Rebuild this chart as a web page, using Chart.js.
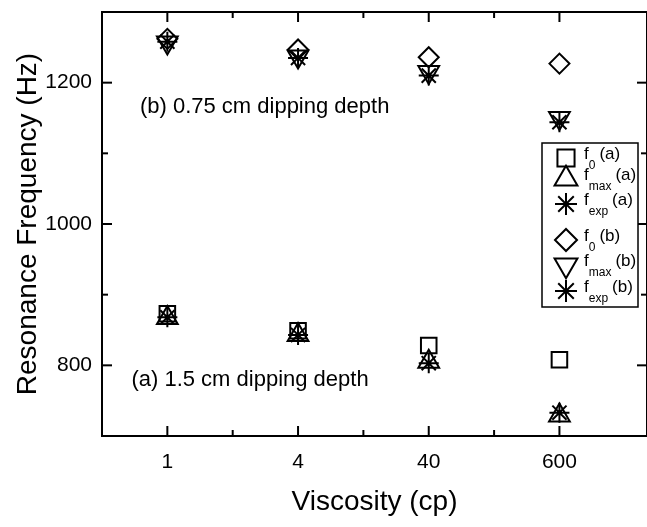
<!DOCTYPE html>
<html>
<head>
<meta charset="utf-8">
<script src="https://cdn.jsdelivr.net/npm/chart.js@4"></script>
<style>
  html, body { margin: 0; padding: 0; background: #fff; }
  canvas { display: block; }
</style>
</head>
<body>
<canvas id="chart" width="647" height="527"></canvas>
<script>
// categories (viscosity, cp) and resonance frequencies (Hz)
const viscosity = ["1", "4", "40", "600"];
const f0A   = [873, 849, 828, 808];
const fmaxA = [867, 843, 805, 729];
const fexpA = [868, 843, 803, 733];
const f0B   = [1262, 1247, 1236, 1227];
const fmaxB = [1257, 1237, 1215, 1150];
const fexpB = [1258, 1235, 1210, 1144];

const yTicks = [800, 1000, 1200];
const yMinor = [900, 1100];
const xMinor = [1.5, 2.5, 3.5];

const seriesSub   = ["0", "max", "exp", "0", "max", "exp"];
const seriesGroup = ["(a)", "(a)", "(a)", "(b)", "(b)", "(b)"];

const notes = [
  { text: "(b) 0.75 cm dipping depth", x: 0.79, y: 1165 },
  { text: "(a) 1.5 cm dipping depth",  x: 0.725, y: 780 }
];

const FONT = '"Liberation Sans", Arial, sans-serif';
Chart.defaults.color = "#000";
Chart.defaults.font.family = FONT;

function series(i, values, style, radius, rotation) {
  return {
    label: `f${seriesSub[i]} ${seriesGroup[i]}`,
    data: values.map((v, k) => ({ x: k + 1, y: v })),
    pointStyle: style,
    pointRadius: radius,
    pointRotation: rotation || 0,
    pointBorderWidth: 2,
    borderColor: "#000",
    backgroundColor: "rgba(0,0,0,0)",
    showLine: false
  };
}

// frame with inward ticks on all four sides
const frame = {
  id: "frame",
  afterDraw(chart) {
    const { ctx, chartArea: a, scales: { x, y } } = chart;
    ctx.save();
    ctx.strokeStyle = "#000";
    ctx.lineWidth = 2;
    ctx.strokeRect(a.left, a.top, a.right - a.left, a.bottom - a.top);
    const line = (x1, y1, x2, y2) => {
      ctx.beginPath(); ctx.moveTo(x1, y1); ctx.lineTo(x2, y2); ctx.stroke();
    };
    x.ticks.forEach(t => {
      const p = x.getPixelForValue(t.value);
      line(p, a.bottom, p, a.bottom - 10);
      line(p, a.top, p, a.top + 10);
    });
    xMinor.forEach(v => {
      const p = x.getPixelForValue(v);
      line(p, a.bottom, p, a.bottom - 6);
      line(p, a.top, p, a.top + 6);
    });
    y.ticks.forEach(t => {
      const p = y.getPixelForValue(t.value);
      line(a.left, p, a.left + 10, p);
      line(a.right, p, a.right - 10, p);
    });
    yMinor.forEach(v => {
      const p = y.getPixelForValue(v);
      line(a.left, p, a.left + 6, p);
      line(a.right, p, a.right - 6, p);
    });
    ctx.restore();
  }
};

// text notes inside the plot
const notesPlugin = {
  id: "notes",
  afterDraw(chart) {
    const { ctx, scales: { x, y } } = chart;
    ctx.save();
    ctx.fillStyle = "#000";
    ctx.font = "22px " + FONT;
    ctx.textAlign = "left";
    ctx.textBaseline = "middle";
    notes.forEach(n => ctx.fillText(n.text, x.getPixelForValue(n.x), y.getPixelForValue(n.y)));
    ctx.restore();
  }
};

// boxed legend with subscripts
const legendPlugin = {
  id: "subLegend",
  afterDraw(chart) {
    const ctx = chart.ctx;
    const box = { left: 542, top: 143, right: 638, bottom: 307 };
    const rows = [158, 179, 204, 240, 265, 291];
    ctx.save();
    ctx.fillStyle = "#fff";
    ctx.fillRect(box.left, box.top, box.right - box.left, box.bottom - box.top);
    ctx.strokeStyle = "#000";
    ctx.lineWidth = 1.5;
    ctx.strokeRect(box.left, box.top, box.right - box.left, box.bottom - box.top);
    chart.data.datasets.forEach((ds, i) => {
      const ry = rows[i];
      ctx.fillStyle = "rgba(0,0,0,0)";
      ctx.strokeStyle = "#000";
      ctx.lineWidth = 2;
      Chart.helpers.drawPoint(ctx, {
        pointStyle: ds.pointStyle,
        rotation: ds.pointRotation,
        radius: ds.pointRadius * 1.1,
        borderWidth: 2
      }, 566, ry);
      ctx.fillStyle = "#000";
      ctx.textBaseline = "middle";
      ctx.textAlign = "left";
      ctx.font = "17px " + FONT;
      ctx.fillText("f", 584, ry - 4);
      const fw = ctx.measureText("f").width;
      ctx.font = "12px " + FONT;
      ctx.fillText(seriesSub[i], 584 + fw, ry + 8);
      const sw = ctx.measureText(seriesSub[i]).width;
      ctx.font = "17px " + FONT;
      ctx.fillText(seriesGroup[i], 584 + fw + sw + 4, ry - 4);
    });
    ctx.restore();
  }
};

new Chart(document.getElementById("chart"), {
  type: "scatter",
  data: {
    datasets: [
      series(0, f0A, "rect", 11),
      series(1, fmaxA, "triangle", 12),
      series(2, fexpA, "star", 10),
      series(3, f0B, "rectRot", 10),
      series(4, fmaxB, "triangle", 12, 180),
      series(5, fexpB, "star", 10)
    ]
  },
  options: {
    responsive: false,
    animation: false,
    events: [],
    devicePixelRatio: 1,
    layout: { autoPadding: false, padding: { top: 12, right: -2, bottom: 0, left: 0 } },
    plugins: { legend: { display: false }, tooltip: { enabled: false } },
    scales: {
      x: {
        type: "linear",
        min: 0.5,
        max: 4.67,
        grid: { display: false, drawTicks: false },
        border: { display: false },
        afterBuildTicks: s => { s.ticks = viscosity.map((v, i) => ({ value: i + 1 })); },
        afterFit: s => {
          s.height = 91;
          s.paddingLeft = 0; s.paddingRight = 0; s.paddingTop = 0; s.paddingBottom = 0;
        },
        ticks: {
          padding: 14,
          font: { size: 21 },
          callback: v => viscosity[v - 1]
        },
        title: {
          display: true,
          text: "Viscosity (cp)",
          font: { size: 28 },
          padding: { top: 0, bottom: 8 }
        }
      },
      y: {
        min: 700,
        max: 1300,
        grid: { display: false, drawTicks: false },
        border: { display: false },
        afterBuildTicks: s => { s.ticks = yTicks.map(v => ({ value: v })); },
        afterFit: s => {
          s.width = 102;
          s.paddingLeft = 0; s.paddingRight = 0; s.paddingTop = 0; s.paddingBottom = 0;
        },
        ticks: { padding: 10, font: { size: 21 }, callback: v => String(v) },
        title: {
          display: true,
          text: "Resonance Frequency (Hz)",
          font: { size: 28 },
          padding: { top: 11, bottom: 0 }
        }
      }
    }
  },
  plugins: [frame, notesPlugin, legendPlugin]
});
</script>
</body>
</html>
